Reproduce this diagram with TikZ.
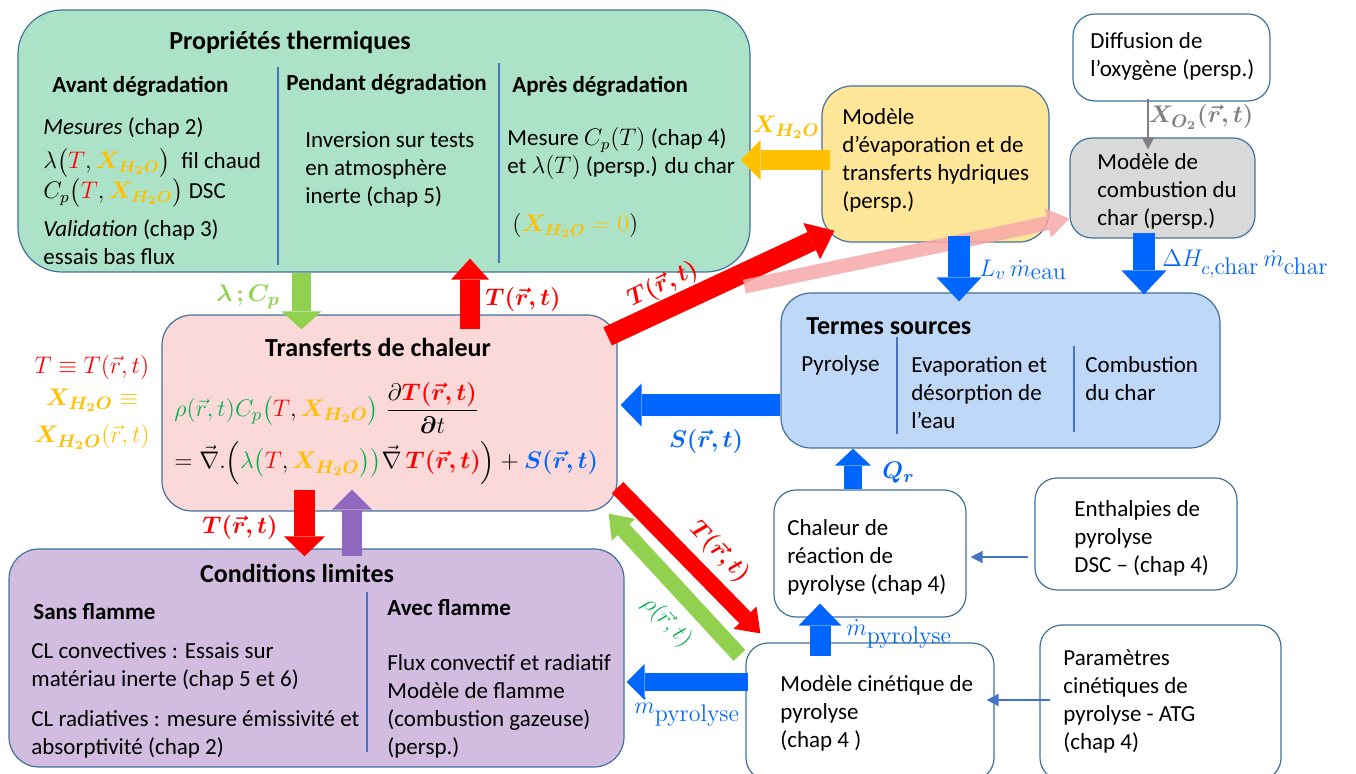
\documentclass[tikz,border=0pt]{standalone}
\usepackage[no-math]{fontspec}
\setmainfont{Carlito}
\usepackage{amsmath,bm}
\usetikzlibrary{arrows.meta,fit,calc,positioning}

\definecolor{boxline}{HTML}{41719C}
\definecolor{thinblue}{HTML}{4472C4}
\definecolor{fgreen}{HTML}{ACE3C8}
\definecolor{fyellow}{HTML}{FFE699}
\definecolor{fgrey}{HTML}{D9D9D9}
\definecolor{fblue}{HTML}{C0D8F8}
\definecolor{fpink}{HTML}{FBD9D9}
\definecolor{fpurple}{HTML}{D2BDE0}
\definecolor{cred}{HTML}{FF0000}
\definecolor{corange}{HTML}{FFC000}
\definecolor{cgreen}{HTML}{00B050}
\definecolor{clgreen}{HTML}{92D050}
\definecolor{cblue}{HTML}{0066FF}
\definecolor{cpurple}{HTML}{9068C0}
\definecolor{csalmon}{HTML}{F6A8A8}
\definecolor{cgrey}{HTML}{808080}

\tikzset{
  box/.style={draw=boxline, line width=0.6pt, rounded corners=15pt, inner sep=0pt},
  wbox/.style={box, fill=white, rounded corners=11pt},
  txt/.style={anchor=west, inner sep=0pt, align=left, font=\fontsize{11.5}{14}\selectfont},
  head/.style={anchor=west, inner sep=0pt, font=\fontsize{11.5}{14}\selectfont\bfseries},
  boxtitle/.style={inner sep=0pt, font=\fontsize{13}{15}\selectfont\bfseries},
  lbl/.style={inner sep=0pt, font=\fontsize{13}{15}\selectfont},
  sep/.style={draw=thinblue, line width=0.6pt},
  fat/.style n args={3}{line width=#1pt, -{Triangle[width=#2pt,length=#3pt,line width=0pt]}},
  thin/.style={draw=thinblue, line width=0.8pt, -{Triangle[width=6pt,length=6pt]}},
}

\begin{document}
\begin{tikzpicture}[x=0.5pt,y=-0.5pt]
\useasboundingbox (0,0) rectangle (1356,774);

\node[box, fill=fgreen, rounded corners=22pt, fit={(18,10)(750,272)}] (props) {};
\node[box, fill=fyellow, fit={(822,86)(1049,242)}] (evap) {};
\node[wbox, fit={(1073,14)(1270,101)}] (oxy) {};
\node[box, fill=fgrey, rounded corners=11pt, fit={(1070,138)(1255,238)}] (comb) {};
\node[box, fill=fblue, fit={(781,293)(1220,448)}] (sources) {};
\node[box, fill=fpink, fit={(162,315)(617,511)}] (transf) {};
\node[box, fill=fpurple, fit={(9,549)(624,767)}] (limites) {};
\node[wbox, fit={(774,490)(966,617)}] (chal) {};
\node[wbox, fit={(1035,478)(1237,590)}] (enth) {};
\node[wbox, fit={(746,643)(994,780)}] (cin) {};
\node[wbox, fit={(1040,625)(1281,780)}] (param) {};

% proprietes thermiques
\node[boxtitle] (ptitle) at (290,42) {Propriétés thermiques};
\draw[sep] (278,67) -- (278,265);
\draw[sep] (499,63) -- (499,263);
\node[head] (avant) at (52,86) {Avant dégradation};
\node[head] (pendant) at (286,84) {Pendant dégradation};
\node[head] (apres) at (512,86) {Après dégradation};
\node[txt] (mes) at (43,128) {\textit{Mesures} (chap 2)};
\node[txt] (mlam) at (43,163) {$\lambda\big(\textcolor{cred}{T},\textcolor{corange}{\bm{X_{H_2O}}}\big)$ \ fil chaud};
\node[txt] (mcp) at (43,193) {$C_p\big(\textcolor{cred}{T},\textcolor{corange}{\bm{X_{H_2O}}}\big)$ DSC};
\node[txt] (valid) at (43,230) {\textit{Validation} (chap 3)};
\node[txt] (essais) at (43,257) {essais bas flux};
\node[txt] (inv) at (305,169) {Inversion sur tests\\en atmosphère\\inerte (chap 5)};
\node[txt] (mesc) at (507,154) {Mesure $C_p(T)$ (chap 4)\\et $\lambda(T)$ (persp.) du char};
\node[txt] (xzero) at (512,226) {$(\textcolor{corange}{\bm{X_{H_2O}}=0})$};

% autres modeles
\node[txt] (evapt) at (842,160) {Modèle\\d’évaporation et de\\transferts hydriques\\(persp.)};
\node[txt] (oxyt) at (1090,56) {Diffusion de\\l’oxygène (persp.)};
\node[txt] (combt) at (1097,191) {Modèle de\\combustion du\\char (persp.)};

% termes sources
\node[boxtitle, anchor=west] (stitle) at (806,326) {Termes sources};
\draw[sep] (897,337) -- (897,434);
\draw[sep] (1074,346) -- (1074,432);
\node[txt] (pyro) at (801,365) {Pyrolyse};
\node[txt] (evdes) at (911,393) {Evaporation et\\désorption de\\l’eau};
\node[txt] (combc) at (1085,379) {Combustion\\du char};

% transferts de chaleur
\node[boxtitle] (ttitle) at (378,347) {Transferts de chaleur};
\node[inner sep=0pt, anchor=west, font=\fontsize{12.7}{15}\selectfont] (eq1) at (174,408)
  {$\textcolor{cgreen}{\rho(\vec r,t)C_p\big(}\textcolor{cred}{T},\textcolor{corange}{\bm{X_{H_2O}}}\textcolor{cgreen}{\big)}\;
    \dfrac{\partial\textcolor{cred}{\bm{T(\vec r,t)}}}{\bm{\partial}t}$};
\node[inner sep=0pt, anchor=west, font=\fontsize{12.7}{15}\selectfont] (eq2) at (174,463)
  {$=\vec\nabla.\Big(\textcolor{cgreen}{\lambda\big(}\textcolor{cred}{T},\textcolor{corange}{\bm{X_{H_2O}}}\textcolor{cgreen}{\big)\big)}\vec\nabla\,\textcolor{cred}{\bm{T(\vec r,t)}}\Big)+\textcolor{cblue}{\bm{S(\vec r,t)}}$};
\node[lbl, text=cred] (tdef) at (92,368) {$T\equiv T(\vec r,t)$};
\node[lbl, text=corange] (xdef) at (92,400) {$\bm{X_{H_2O}}\equiv$};
\node[lbl, text=corange] (xdef2) at (92,437) {$\bm{X_{H_2O}}(\vec r,t)$};

% conditions limites
\node[boxtitle] (ltitle) at (297,573) {Conditions limites};
\draw[sep] (367,592) -- (367,752);
\node[head] (sans) at (33,612) {Sans flamme};
\node[head] (avec) at (387,608) {Avec flamme};
\node[txt] (clconv) at (31,666) {CL convectives : Essais sur\\matériau inerte (chap 5 et 6)};
\node[txt] (clrad) at (31,734) {CL radiatives : mesure émissivité et\\absorptivité (chap 2)};
\node[txt] (flux) at (387,706) {Flux convectif et radiatif\\Modèle de flamme\\(combustion gazeuse)\\(persp.)};

% pyrolyse
\node[txt] (chalt) at (787,557) {Chaleur de\\réaction de\\pyrolyse (chap 4)};
\node[txt] (entht) at (1074,538) {Enthalpies de\\pyrolyse\\DSC – (chap 4)};
\node[txt] (cint) at (780,713) {Modèle cinétique de\\pyrolyse\\(chap 4 )};
\node[txt] (paramt) at (1063,701) {Paramètres\\cinétiques de\\pyrolyse - ATG\\(chap 4)};

% fleches
\draw[fat={9.5}{20}{9}, clgreen] ($(props.south)+(-82.5,0)$) -- ($(transf.north)+(-88,15)$);
\draw[fat={10}{19}{10.5}, cred] ($(transf.north)+(80.5,15)$) -- ($(props.south)+(86,-14)$);
\draw[fat={10}{20}{10}, corange] ($(evap.west)+(9,-4)$) -- ($(props.east)+(-10,19)$);
\draw[fat={10}{20}{12.5}, cred] ($(transf.north east)+(-10,22)$) -- ($(evap.south west)+(13,-12)$);
\draw[fat={7}{15}{11}, csalmon, opacity=0.85] ($(evap.south west)+(-77,44)$) -- ($(comb.south west)+(0,-20)$);
\draw[fat={11}{22.5}{12}, cblue] ($(evap.south)+(23.5,-7)$) -- ($(sources.north)+(-41.5,9)$);
\draw[fat={11}{22.5}{12}, cblue] ($(comb.south)+(-18.5,-6)$) -- ($(sources.north)+(143.5,2)$);
\draw[draw=cgrey, line width=0.8pt, -{Triangle[width=6pt,length=6pt]}] ($(oxy.south)+(-23.5,-3)$) -- ($(comb.north)+(-14.5,12)$);
\draw[fat={11}{21.5}{10.5}, cblue] ($(sources.west)+(0,34.5)$) -- ($(transf.east)+(3,-8)$);
\draw[fat={9}{18}{8.5}, cblue] ($(chal.north)+(-17,0)$) -- ($(sources.south)+(-147.5,0)$);
\draw[thin] ($(enth.west)+(-6,23)$) -- ($(chal.east)+(4,3.5)$);
\draw[fat={10.5}{21.5}{11}, cblue] ($(cin.north)+(-50,14)$) -- ($(chal.south)+(-50,-14)$);
\draw[thin] ($(param.west)+(11,-2.5)$) -- ($(cin.east)+(-8,-11.5)$);
\draw[fat={9}{18}{9}, cblue] ($(cin.west)+(3,-29.5)$) -- ($(limites.east)+(2,24)$);
\draw[fat={8}{16}{11}, cred] ($(transf.south east)+(0,-24)$) -- ($(cin.north west)+(15,-9)$);
\draw[fat={8}{16}{11}, clgreen] ($(cin.north west)+(-6,13)$) -- ($(transf.south east)+(-9,2)$);
\draw[fat={10.5}{20.5}{10}, cred] ($(transf.south)+(-85,-22)$) -- ($(limites.north)+(-12,8)$);
\draw[fat={10}{20}{10}, cpurple] ($(limites.north)+(35.5,8)$) -- ($(transf.south)+(-37.5,-22)$);

% etiquettes
\node[lbl, text=clgreen] (llam) at (248,297) {$\bm{\lambda\,;C_p}$};
\node[lbl, text=cred] (lt1) at (523,300) {$\bm{T(\vec r,t)}$};
\node[lbl, text=corange] (lx) at (786,127) {$\bm{X_{H_2O}}$};
\node[lbl, text=cred, rotate=26] (lt2) at (663,285) {$\bm{T(\vec r,t)}$};
\node[lbl, text=cblue, anchor=west] (llv) at (979,270) {$L_v\,\dot m_{\textstyle\mathrm{eau}}$};
\node[lbl, text=cblue, anchor=west] (ldh) at (1162,264) {$\Delta H_{c{,}\textstyle\mathrm{char}}\,\dot m_{\textstyle\mathrm{char}}$};
\node[lbl, text=cgrey] (lxo) at (1201,117) {$\bm{X_{O_2}(\vec r,t)}$};
\node[lbl, text=cblue] (ls) at (706,442) {$\bm{S(\vec r,t)}$};
\node[lbl, text=cblue, anchor=west] (lq) at (882,473) {$\bm{Q_r}$};
\node[lbl, text=cblue, anchor=west] (lm1) at (846,634) {$\dot m_{\textstyle\mathrm{pyrolyse}}$};
\node[lbl, text=cblue, anchor=west] (lm2) at (634,712) {$\dot m_{\textstyle\mathrm{pyrolyse}}$};
\node[lbl, text=cred, rotate=-46] (lt3) at (719,552) {$\bm{T(\vec r,t)}$};
\node[lbl, text=cgreen, rotate=-46] (lrho) at (667,622) {$\rho(\vec r,t)$};
\node[lbl, text=cred] (lt4) at (240,528) {$\bm{T(\vec r,t)}$};
\end{tikzpicture}
\end{document}
